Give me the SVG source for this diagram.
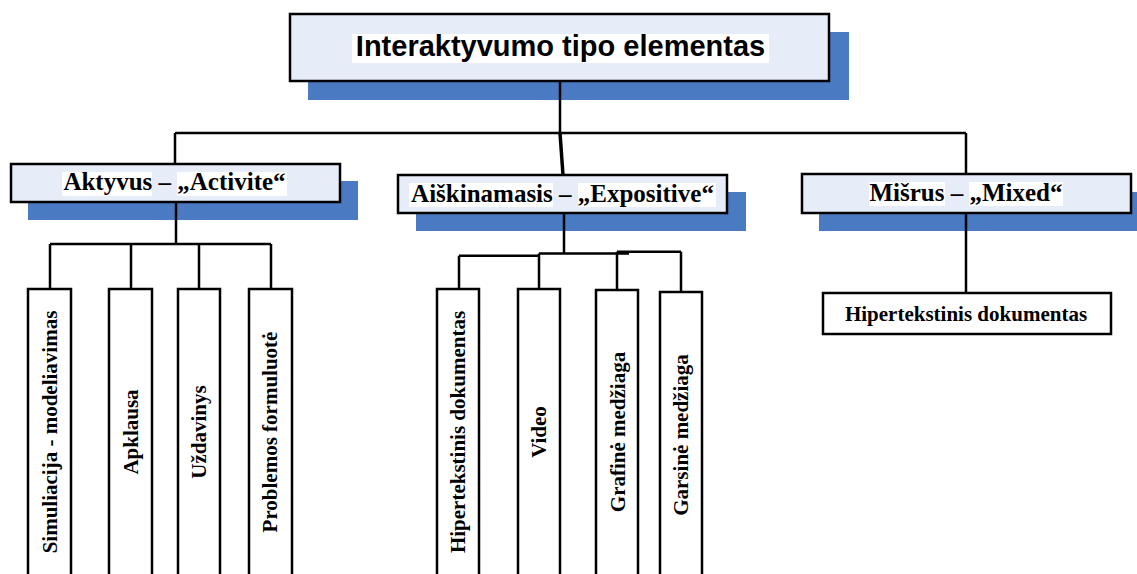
<svg xmlns="http://www.w3.org/2000/svg" width="1137" height="574" viewBox="0 0 1137 574">
<style>
.shadow{fill:#4a7bc2}
.box{fill:#e7edf8;stroke:#000;stroke-width:2.5}
.wbox{fill:#fff;stroke:#000;stroke-width:2.5}
.hl{fill:#fff}
.title{font-family:"Liberation Sans",Arial,sans-serif;font-weight:bold;font-size:29px;fill:#000}
.mid{font-family:"Liberation Serif","Times New Roman",serif;font-weight:bold;font-size:25px;fill:#000}
.leaf{font-family:"Liberation Serif","Times New Roman",serif;font-weight:bold;font-size:21px;fill:#000}
.conn{fill:none;stroke:#000;stroke-width:2.5}
</style>
<rect width="1137" height="574" fill="#fff"/>
<g id="node-root">
<rect class="shadow" x="308" y="32" width="541" height="68"/>
<rect class="box" x="290" y="14" width="539" height="67"/>
<rect class="hl" x="352" y="34" width="417" height="29"/>
<text class="title" x="560.5" y="56" text-anchor="middle">Interaktyvumo tipo elementas</text>
</g>
<g id="node-aktyvus">
<rect class="shadow" x="28" y="181" width="330" height="39"/>
<rect class="box" x="11" y="164" width="329" height="38"/>
<rect class="hl" x="62" y="172" width="90" height="24"/>
<rect class="hl" x="177" y="172" width="110" height="24"/>
<text class="mid" x="174.5" y="190" text-anchor="middle">Aktyvus – „Activite“</text>
</g>
<g id="node-aiskinamasis">
<rect class="shadow" x="416" y="192" width="330" height="39"/>
<rect class="box" x="398" y="175" width="329" height="38"/>
<rect class="hl" x="409" y="183" width="144" height="24"/>
<rect class="hl" x="578" y="183" width="138" height="24"/>
<text class="mid" x="562.5" y="201.5" text-anchor="middle">Aiškinamasis – „Expositive“</text>
</g>
<g id="node-misrus">
<rect class="shadow" x="819" y="192" width="330" height="39"/>
<rect class="box" x="802" y="174" width="329" height="39"/>
<rect class="hl" x="869" y="182" width="76" height="24"/>
<rect class="hl" x="969" y="182" width="94" height="24"/>
<text class="mid" x="966" y="200.5" text-anchor="middle">Mišrus – „Mixed“</text>
</g>
<g id="node-simuliacija">
<rect class="wbox" x="28" y="289" width="43" height="295"/>
<text class="leaf" text-anchor="middle" transform="translate(57,432) rotate(-90)">Simuliacija - modeliavimas</text>
</g>
<g id="node-apklausa">
<rect class="wbox" x="109" y="289" width="43" height="295"/>
<text class="leaf" text-anchor="middle" transform="translate(137.5,432) rotate(-90)">Apklausa</text>
</g>
<g id="node-uzdavinys">
<rect class="wbox" x="178" y="289" width="42" height="295"/>
<text class="leaf" text-anchor="middle" transform="translate(206,432) rotate(-90)">Uždavinys</text>
</g>
<g id="node-problemos">
<rect class="wbox" x="249" y="289" width="43" height="295"/>
<text class="leaf" text-anchor="middle" transform="translate(277,432) rotate(-90)">Problemos formuluotė</text>
</g>
<g id="node-hipertekstinis-a">
<rect class="wbox" x="437" y="289" width="42" height="295"/>
<text class="leaf" text-anchor="middle" transform="translate(464.5,432) rotate(-90)">Hipertekstinis dokumentas</text>
</g>
<g id="node-video">
<rect class="wbox" x="518" y="289" width="42" height="295"/>
<text class="leaf" text-anchor="middle" transform="translate(546,432) rotate(-90)">Video</text>
</g>
<g id="node-grafine">
<rect class="wbox" x="596" y="290" width="42" height="295"/>
<text class="leaf" text-anchor="middle" transform="translate(624.5,432) rotate(-90)">Grafinė medžiaga</text>
</g>
<g id="node-garsine">
<rect class="wbox" x="660" y="292" width="42" height="295"/>
<text class="leaf" text-anchor="middle" transform="translate(687.5,435) rotate(-90)">Garsinė medžiaga</text>
</g>
<g id="node-hipertekstinis-m">
<rect class="wbox" x="823" y="293" width="288" height="41"/>
<text class="leaf" x="966" y="320.5" text-anchor="middle">Hipertekstinis dokumentas</text>
</g>
<g id="connectors">
<path class="conn" d="M560 81 V133 M175 133 H966 M175 133 V164 M966 133 V174"/>
<path class="conn" style="stroke-width:3.5" d="M560 133 L563 175"/>
<path class="conn" d="M176 202 V244 M50 244 H271 M50 244 V289 M131 244 V289 M199 244 V289 M271 244 V289"/>
<path class="conn" d="M564 213 V253.5 M539 253.5 H629 M459 255.7 H539 M539 253.5 V289 M459 255.7 V289 M617 251.7 H681 M617 251.7 V290 M681 251.7 V292"/>
<path class="conn" d="M966 213 V293"/>
</g>
</svg>
